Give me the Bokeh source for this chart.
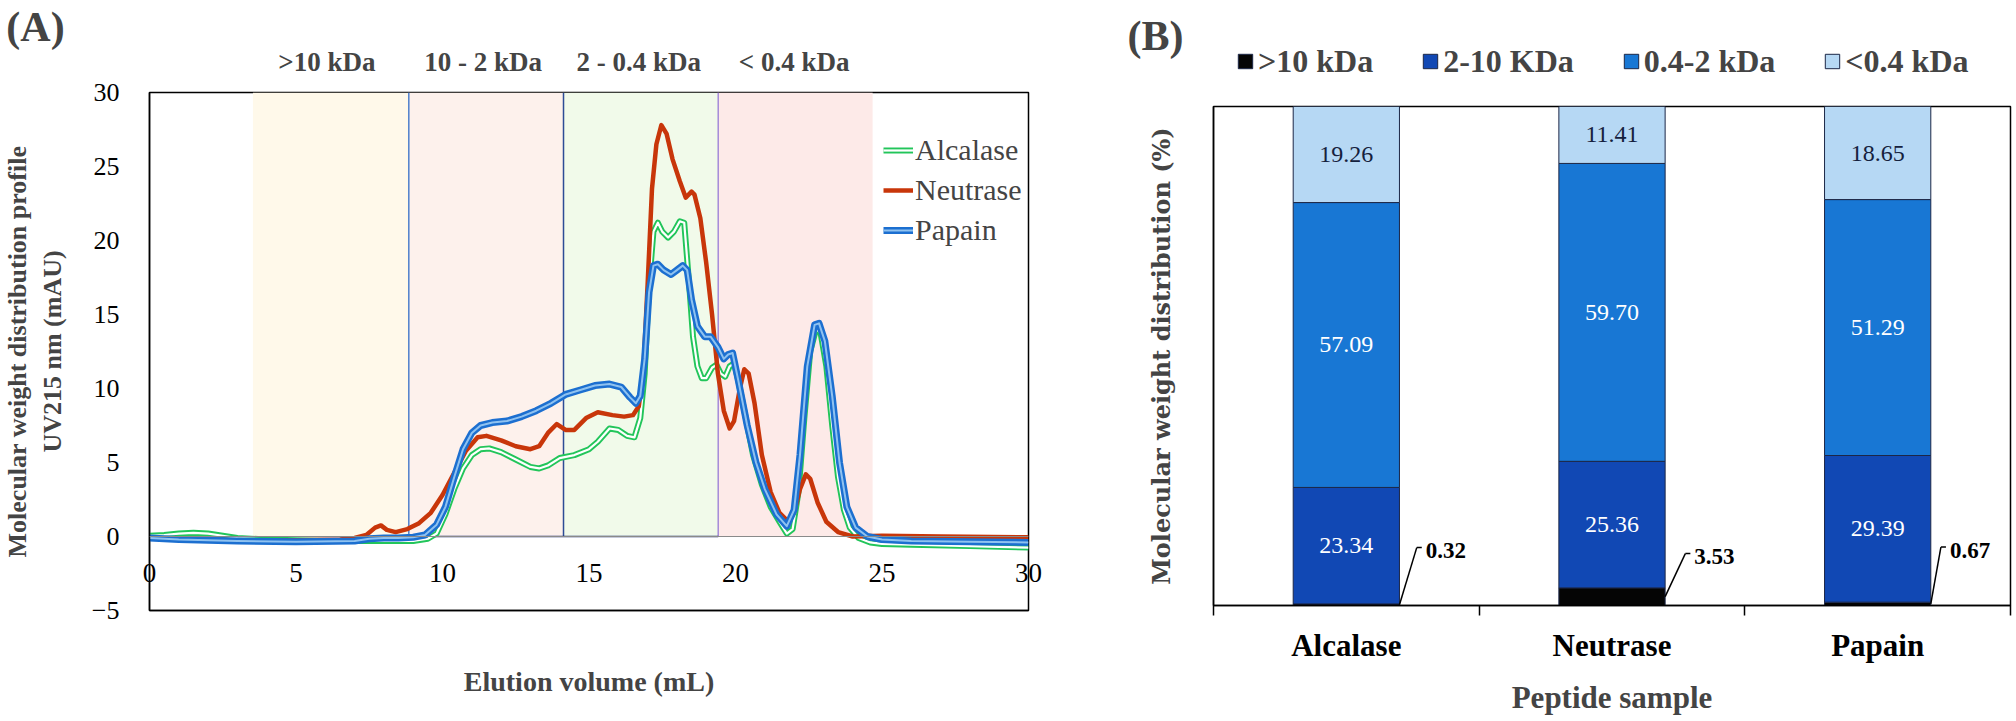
from bokeh.plotting import figure
from bokeh.models import (ColumnDataSource, Range1d, FixedTicker, Legend, LegendItem,
                          Label, LabelSet, Span)
from bokeh.layouts import row, column
from bokeh.embed import file_html
from bokeh.resources import INLINE
from bokeh.core.properties import value

SERIF = "Liberation Serif"

# ---------------- Panel A data (elution profiles) ----------------
alcalase_x = [0, 0.5, 1.0, 1.5, 2.0, 2.5, 3.0, 4, 5, 6, 7, 8, 9, 9.5, 9.8, 10.1, 10.4, 10.7,
              11.0, 11.3, 11.6, 12.0, 12.5, 13.0, 13.3, 13.6, 14.0, 14.5, 15.0, 15.3, 15.7,
              16.0, 16.3, 16.55, 16.75, 16.9, 17.05, 17.2, 17.35, 17.5, 17.7, 17.9, 18.1,
              18.25, 18.4, 18.55, 18.7, 18.85, 19.0, 19.2, 19.35, 19.5, 19.65, 19.8, 19.95,
              20.1, 20.3, 20.6, 20.9, 21.2, 21.5, 21.75, 21.95, 22.15, 22.35, 22.55, 22.75,
              22.9, 23.1, 23.3, 23.5, 23.7, 23.9, 24.2, 24.6, 25, 26, 28, 30]
alcalase_y = [0.05, 0.1, 0.2, 0.25, 0.2, 0.05, -0.1, -0.2, -0.25, -0.3, -0.3, -0.3, -0.3, -0.15,
              0.2, 1.5, 3.2, 4.6, 5.5, 5.9, 5.95, 5.7, 5.2, 4.7, 4.6, 4.8, 5.3, 5.5, 5.9, 6.4,
              7.3, 7.2, 6.8, 6.7, 8.0, 11.0, 17.0, 20.6, 21.2, 20.6, 20.2, 20.6, 21.3, 21.2,
              17.5, 13.5, 11.5, 10.7, 10.7, 11.4, 11.6, 11.0, 10.8, 11.5, 11.7, 10.5, 8.5,
              5.5, 3.5, 2.0, 1.0, 0.2, 0.5, 3.0, 8.0, 12.5, 14.0, 13.8, 11.5, 7.5, 4.0, 1.8,
              0.6, -0.1, -0.4, -0.5, -0.55, -0.65, -0.75]

neutrase_x = [0, 1, 3, 5, 6.5, 7.0, 7.4, 7.7, 7.9, 8.1, 8.4, 8.8, 9.2, 9.6, 10.0, 10.4, 10.8,
              11.2, 11.5, 12.0, 12.5, 13.0, 13.3, 13.6, 13.9, 14.2, 14.5, 14.9, 15.3, 15.8,
              16.2, 16.5, 16.7, 16.85, 17.0, 17.15, 17.3, 17.47, 17.65, 17.85, 18.1, 18.3,
              18.5, 18.6, 18.8, 19.0, 19.2, 19.4, 19.6, 19.8, 19.95, 20.15, 20.3, 20.45,
              20.65, 20.9, 21.2, 21.5, 21.8, 22.0, 22.2, 22.4, 22.55, 22.8, 23.1, 23.5, 24.0,
              25, 27, 30]
neutrase_y = [-0.1, -0.15, -0.25, -0.25, -0.2, -0.1, 0.1, 0.6, 0.75, 0.45, 0.3, 0.5, 0.9, 1.6,
              2.8, 4.3, 5.8, 6.7, 6.8, 6.5, 6.1, 5.9, 6.1, 7.0, 7.6, 7.2, 7.2, 8.0, 8.4, 8.2,
              8.1, 8.2, 8.8, 11.0, 17.0, 23.5, 26.5, 27.8, 27.2, 25.5, 24.0, 22.9, 23.3, 23.1,
              21.5, 18.5, 15.0, 11.0, 8.5, 7.3, 7.8, 10.0, 11.3, 11.0, 9.0, 5.5, 3.0, 1.6,
              1.0, 1.6, 3.2, 4.2, 3.9, 2.3, 1.0, 0.3, 0.0, 0.05, 0.0, -0.05]

papain_x = [0, 1, 3, 5, 7, 7.5, 8, 8.5, 9.0, 9.4, 9.8, 10.1, 10.4, 10.7, 11.0, 11.3, 11.7,
            12.2, 12.7, 13.2, 13.7, 14.2, 14.7, 15.2, 15.7, 16.1, 16.4, 16.6, 16.75, 16.9,
            17.05, 17.2, 17.35, 17.55, 17.8, 18.0, 18.2, 18.35, 18.5, 18.7, 18.95, 19.15,
            19.4, 19.6, 19.75, 19.9, 20.1, 20.4, 20.7, 21.0, 21.4, 21.75, 22.0, 22.2, 22.45,
            22.7, 22.85, 23.05, 23.3, 23.55, 23.8, 24.1, 24.5, 25, 26, 28, 30]
papain_y = [-0.1, -0.2, -0.3, -0.35, -0.3, -0.15, -0.1, -0.1, -0.05, 0.1, 0.8, 2.0, 4.0, 5.9,
            7.0, 7.5, 7.7, 7.8, 8.1, 8.5, 9.0, 9.6, 9.9, 10.2, 10.3, 10.1, 9.4, 9.0, 9.5, 12.0,
            16.5, 18.3, 18.4, 18.0, 17.7, 18.0, 18.3, 18.0, 16.0, 14.2, 13.5, 13.5, 12.8, 12.0,
            12.3, 12.4, 10.5, 7.5, 5.0, 3.2, 1.5, 0.7, 1.8, 5.5, 11.5, 14.3, 14.4, 13.2, 9.5,
            5.0, 2.0, 0.6, 0.0, -0.2, -0.3, -0.35, -0.4]

region_labels = [">10 kDa", "10 - 2 kDa", "2 - 0.4 kDa", "< 0.4 kDa"]
region_edges = [3.53, 8.85, 14.13, 19.41, 24.68]
x_ticks_A = [0, 5, 10, 15, 20, 25, 30]
y_ticks_A = [-5, 0, 5, 10, 15, 20, 25, 30]

# ---------------- Panel B data (stacked %) ----------------
samples = ["Alcalase", "Neutrase", "Papain"]
frac_gt10 = [0.32, 3.53, 0.67]
frac_2_10 = [23.34, 25.36, 29.39]
frac_04_2 = [57.09, 59.70, 51.29]
frac_lt04 = [19.26, 11.41, 18.65]
fraction_names = [">10 kDa", "2-10 KDa", "0.4-2 kDa", "<0.4 kDa"]

# ---------------- styles ----------------
GREEN = "#22c55a"
RED = "#c8360a"
BLUE = "#1c6fd0"
LIGHTBLUE = "#8fc2f0"
band_colors = ["#fff9ea", "#fdf1ec", "#f1faea", "#fdeae8"]
edge_line_colors = ["#4f7fcc", "#2d4c96", "#a58ad8"]
bar_colors = ["#050505", "#1148b4", "#1877d4", "#b6d8f4"]

# ---------------- layout constants (pixels) ----------------
A_W, HDR_A, A_H = 1070, 77, 644
A_LEFT, A_RIGHT, A_TOP, A_BOTTOM = 144, 42, 15, 111
A_PX = (A_W - A_LEFT - A_RIGHT) / 30.0
B_W, HDR_B, B_H = 946, 96, 625
B_LEFT, B_RIGHT, B_TOP, B_BOTTOM = 143, 6, 10, 116


def header(width, height, x_range):
    h = figure(width=width, height=height, output_backend="svg", toolbar_location=None,
               x_range=x_range, y_range=Range1d(0, height), x_axis_type=None,
               y_axis_type=None, min_border=0, outline_line_color=None)
    h.frame_align = False
    return h


# ================= Panel A header (texts above the frame) =================
hdrA = header(A_W, HDR_A, Range1d(-A_LEFT / A_PX, 30 + A_RIGHT / A_PX))
for i, lab in enumerate(region_labels):
    cx = (region_edges[i] + region_edges[i + 1]) / 2
    hdrA.add_layout(Label(x=cx, y=16, text=lab, text_align="center", text_baseline="middle",
                          text_font=SERIF, text_font_style="bold", text_font_size="27px"))
hdrA.add_layout(Label(x=(35 - A_LEFT) / A_PX, y=51, text="(A)", text_align="center",
                      text_baseline="middle", text_font=SERIF, text_font_style="bold",
                      text_font_size="42px"))

# ================= Panel A =================
pA = figure(width=A_W, height=A_H, x_range=Range1d(0, 30), y_range=Range1d(-5, 30),
            output_backend="svg", toolbar_location=None,
            min_border_left=A_LEFT, min_border_right=A_RIGHT, min_border_top=A_TOP,
            min_border_bottom=A_BOTTOM)
pA.frame_align = False
pA.xgrid.visible = False
pA.ygrid.visible = False
pA.outline_line_color = "black"
pA.outline_line_width = 1.5

pA.quad(left=region_edges[:-1], right=region_edges[1:], bottom=0, top=30,
        fill_color=band_colors, line_color=None)
pA.segment(x0=region_edges[1:4], y0=0, x1=region_edges[1:4], y1=30,
           line_color=edge_line_colors, line_width=1.5)
pA.add_layout(Span(location=0, dimension="width", line_color="#8a8a8a", line_width=1))
pA.segment(x0=[region_edges[1]], y0=[0], x1=[region_edges[3]], y1=[0],
           line_color="#1f2f70", line_width=1.5)

gA = pA.line(alcalase_x, alcalase_y, line_color=GREEN, line_width=6, line_join="round")
gA2 = pA.line(alcalase_x, alcalase_y, line_color="white", line_width=2.2, line_join="round")
rN = pA.line(neutrase_x, neutrase_y, line_color=RED, line_width=4.5, line_join="round")
bP = pA.line(papain_x, papain_y, line_color=BLUE, line_width=7, line_join="round")
bP2 = pA.line(papain_x, papain_y, line_color=LIGHTBLUE, line_width=2, line_join="round")

legA = Legend(items=[LegendItem(label="Alcalase", renderers=[gA, gA2]),
                     LegendItem(label="Neutrase", renderers=[rN]),
                     LegendItem(label="Papain", renderers=[bP, bP2])],
              location=(734, 360), label_text_font=SERIF, label_text_font_size="30px",
              glyph_width=30, glyph_height=40, label_height=40, spacing=0, padding=0, margin=0,
              label_standoff=2, background_fill_alpha=0, border_line_color=None)
pA.add_layout(legA)

pA.xaxis.ticker = FixedTicker(ticks=x_ticks_A)
pA.xaxis.major_label_text_font = SERIF
pA.xaxis.major_label_text_font_size = "27px"
pA.xaxis.major_label_text_color = "black"
pA.xaxis.major_label_standoff = -47
pA.xaxis.major_tick_line_color = None
pA.xaxis.major_tick_out = 0
pA.xaxis.major_tick_in = 0
pA.xaxis.minor_tick_line_color = None
pA.xaxis.axis_line_color = "black"
pA.xaxis.axis_line_width = 1.5
pA.xaxis.axis_label = "Elution volume (mL)"
pA.xaxis.axis_label_text_font = SERIF
pA.xaxis.axis_label_text_font_style = "bold"
pA.xaxis.axis_label_text_font_size = "28px"
pA.xaxis.axis_label_standoff = 81

pA.yaxis.ticker = FixedTicker(ticks=y_ticks_A)
pA.yaxis.major_label_text_font = SERIF
pA.yaxis.major_label_text_font_size = "26px"
pA.yaxis.major_label_text_color = "black"
pA.yaxis.major_label_standoff = 30
pA.yaxis.major_tick_line_color = None
pA.yaxis.major_tick_out = 0
pA.yaxis.major_tick_in = 0
pA.yaxis.minor_tick_line_color = None
pA.yaxis.axis_line_color = "black"
pA.yaxis.axis_line_width = 1.5
pA.yaxis.axis_label = "Molecular weight distribution profile\nUV215 nm (mAU)"
pA.yaxis.axis_label_text_font = SERIF
pA.yaxis.axis_label_text_font_style = "bold"
pA.yaxis.axis_label_text_font_size = "26px"
pA.yaxis.axis_label_standoff = 22

# ================= Panel B =================
pB = figure(width=B_W, height=B_H, x_range=Range1d(0, 3), y_range=Range1d(0, 100),
            output_backend="svg", toolbar_location=None,
            min_border_left=B_LEFT, min_border_right=B_RIGHT, min_border_top=B_TOP,
            min_border_bottom=B_BOTTOM)
pB.frame_align = False
pB.xgrid.visible = False
pB.ygrid.visible = False
pB.outline_line_color = "black"
pB.outline_line_width = 1.5

xc = [i + 0.5 for i in range(len(samples))]
stack_keys = ["gt10", "b2_10", "b04_2", "lt04"]
srcB = ColumnDataSource(dict(x=xc, gt10=frac_gt10, b2_10=frac_2_10, b04_2=frac_04_2,
                             lt04=frac_lt04))
bars = pB.vbar_stack(stack_keys, x="x", width=0.4, source=srcB, fill_color=bar_colors,
                     line_color="#1c2747", line_width=1)

series = [frac_gt10, frac_2_10, frac_04_2, frac_lt04]
text_cols = [None, "white", "white", "#15213d"]
cum = [0.0] * len(samples)
for k, vals in enumerate(series):
    mids = [c + v / 2 for c, v in zip(cum, vals)]
    cum = [c + v for c, v in zip(cum, vals)]
    if text_cols[k] is None:
        continue
    s = ColumnDataSource(dict(x=xc, y=mids, t=["%.2f" % v for v in vals]))
    pB.add_layout(LabelSet(x="x", y="y", text="t", source=s, text_align="center",
                           text_baseline="middle", text_font=value(SERIF),
                           text_font_size="24px", text_color=text_cols[k]))

callout_top = [11.6, 10.4, 11.7]
callout_dx = [0.065, 0.076, 0.038]
x_edge = [c + 0.2 for c in xc]
x_top = [e + d for e, d in zip(x_edge, callout_dx)]
pB.segment(x0=x_edge, y0=[v / 2 for v in frac_gt10], x1=x_top, y1=callout_top,
           line_color="black", line_width=1.5)
pB.segment(x0=x_top, y0=callout_top, x1=[t + 0.019 for t in x_top], y1=callout_top,
           line_color="black", line_width=1.5)
src_co = ColumnDataSource(dict(x=[t + 0.034 for t in x_top], y=[c - 0.6 for c in callout_top],
                               t=["%.2f" % v for v in frac_gt10]))
pB.add_layout(LabelSet(x="x", y="y", text="t", source=src_co, text_align="left",
                       text_baseline="middle", text_font=value(SERIF),
                       text_font_style="bold", text_font_size="23px", text_color="black"))

pB.xaxis.ticker = FixedTicker(ticks=xc, minor_ticks=[0, 1, 2, 3])
pB.xaxis.major_label_overrides = {x: s for x, s in zip(xc, samples)}
pB.xaxis.major_label_text_font = SERIF
pB.xaxis.major_label_text_font_style = "bold"
pB.xaxis.major_label_text_font_size = "31px"
pB.xaxis.major_label_text_color = "black"
pB.xaxis.major_label_standoff = 12
pB.xaxis.major_tick_line_color = None
pB.xaxis.major_tick_out = 0
pB.xaxis.major_tick_in = 0
pB.xaxis.minor_tick_line_color = "black"
pB.xaxis.minor_tick_line_width = 1.5
pB.xaxis.minor_tick_out = 10
pB.xaxis.minor_tick_in = 0
pB.xaxis.axis_line_color = "black"
pB.xaxis.axis_line_width = 1.5
pB.xaxis.axis_label = "Peptide sample"
pB.xaxis.axis_label_text_font = SERIF
pB.xaxis.axis_label_text_font_style = "bold"
pB.xaxis.axis_label_text_font_size = "31px"
pB.xaxis.axis_label_standoff = 14

pB.yaxis.ticker = FixedTicker(ticks=[])
pB.yaxis.major_tick_line_color = None
pB.yaxis.minor_tick_line_color = None
pB.yaxis.axis_line_color = "black"
pB.yaxis.axis_line_width = 1.5
pB.yaxis.axis_label = "Molecular weight distribution (%)"
pB.yaxis.axis_label_text_font = "DejaVu Serif"
pB.yaxis.axis_label_text_font_style = "bold"
pB.yaxis.axis_label_text_font_size = "24px"
pB.yaxis.axis_label_standoff = 38

# ================= Panel B header: "(B)" and the legend =================
hdrB = header(B_W, HDR_B, Range1d(0, B_W))
proxies = hdrB.vbar_stack(stack_keys, x="x", width=0.4, source=srcB, fill_color=bar_colors,
                          line_color="#1c2747", line_width=1, visible=False)
legB = Legend(items=[LegendItem(label=n, renderers=[r]) for n, r in zip(fraction_names, proxies)],
              orientation="horizontal", location=(166, 16),
              label_text_font=SERIF, label_text_font_style="bold", label_text_font_size="32px",
              glyph_width=18, glyph_height=18, label_height=38, label_standoff=4, spacing=48,
              padding=0, margin=0, background_fill_alpha=0, border_line_color=None,
              inactive_fill_alpha=0)
hdrB.add_layout(legB)
hdrB.add_layout(Label(x=85, y=61, text="(B)", text_align="center",
                      text_baseline="middle", text_font=SERIF, text_font_style="bold",
                      text_font_size="42px"))

layout = row(column(hdrA, pA), column(hdrB, pB))
open("out.html", "w").write(file_html(layout, INLINE))
